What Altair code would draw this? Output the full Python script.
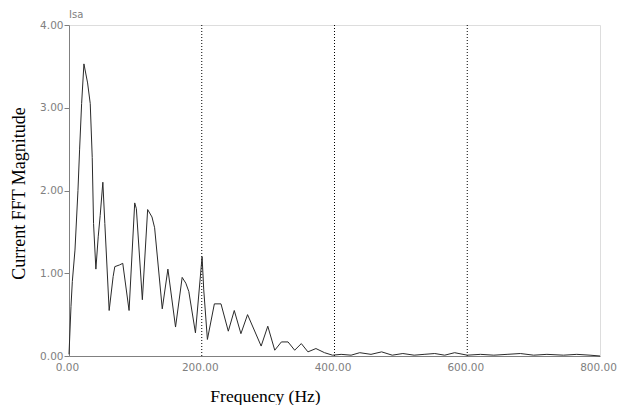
import altair as alt
import pandas as pd

freq_hz = [0, 3, 5, 9, 13.5, 16, 19, 22.5, 28, 32, 35, 37, 40.5, 44, 47, 51, 54,
           60.5, 66.5, 69, 76, 81, 90.5, 99, 101.5, 110.5, 118.5, 125, 129, 140.5,
           149, 160.5, 170.5, 176, 180.5, 190.5, 200.5, 203, 208.5, 219, 229, 240,
           249, 259, 269, 289.5, 299.5, 310, 320, 330, 340, 350, 360, 372, 385, 397,
           410, 425, 438, 455, 471, 487, 503, 520, 535, 551, 566, 581, 600, 620, 640,
           660, 680, 700, 720, 745, 765, 785, 800]
magnitude = [0.02, 0.6, 0.9, 1.28, 2.0, 2.5, 3.05, 3.53, 3.3, 3.05, 2.4, 1.6, 1.05,
             1.44, 1.7, 2.1, 1.6, 0.55, 0.96, 1.08, 1.1, 1.12, 0.55, 1.85, 1.78, 0.68,
             1.77, 1.68, 1.55, 0.57, 1.05, 0.35, 0.95, 0.88, 0.78, 0.28, 1.2, 0.8, 0.2,
             0.63, 0.63, 0.3, 0.55, 0.27, 0.5, 0.12, 0.36, 0.07, 0.17, 0.17, 0.07, 0.15,
             0.05, 0.09, 0.04, 0.01, 0.02, 0.01, 0.04, 0.02, 0.05, 0.01, 0.03, 0.01,
             0.02, 0.03, 0.01, 0.04, 0.01, 0.02, 0.01, 0.02, 0.03, 0.01, 0.02, 0.01,
             0.02, 0.01, 0.0]
x_ticks = [0, 200, 400, 600, 800]
y_ticks = [0, 1, 2, 3, 4]
grid_lines = [200, 400, 600]

df = pd.DataFrame({"f": freq_hz, "m": magnitude})
grid_df = pd.DataFrame({"g": grid_lines})

GREY = "#808080"
LABEL_FONT = "DejaVu Sans"
SERIF = "Liberation Serif"

x_scale = alt.Scale(domain=[0, 800], nice=False, zero=False)
y_scale = alt.Scale(domain=[0, 4], nice=False)

line = alt.Chart(df).mark_line(color="#2a2a2a", strokeWidth=1, interpolate="linear").encode(
    x=alt.X("f:Q", scale=x_scale,
            axis=alt.Axis(values=x_ticks, format=".2f", grid=False, ticks=False,
                          labelFont=LABEL_FONT, labelFontSize=10.5, labelColor=GREY,
                          labelPadding=6, labelOffset=-2, domainColor=GREY,
                          labelFlush=False,
                          title="Frequency (Hz)", titleFont=SERIF, titleFontSize=17.5,
                          titleFontWeight="normal", titleColor="#000000",
                          titleX=196, titleY=40, titleBaseline="middle",
                          titleAnchor="start", titleAlign="center")),
    y=alt.Y("m:Q", scale=y_scale,
            axis=alt.Axis(values=y_ticks, format=".2f", grid=False, ticks=True,
                          tickSize=5, tickColor=GREY, labelFont=LABEL_FONT,
                          labelFontSize=10.5, labelColor=GREY, labelPadding=1,
                          domainColor=GREY, labelFlush=False,
                          title="Current FFT Magnitude", titleFont=SERIF,
                          titleFontSize=18, titleFontWeight="normal",
                          titleColor="#000000", titleAngle=-90, titleX=-50,
                          titleY=168, titleAlign="center", titleBaseline="middle")),
)

grid = alt.Chart(grid_df).mark_rule(color="#000000", strokeWidth=1, strokeDash=[1, 2]).encode(
    x=alt.X("g:Q", scale=x_scale)
)

chart = (grid + line).properties(
    width=531,
    height=331,
    padding={"left": 69, "top": 25, "right": 17, "bottom": 49},
    autosize=alt.AutoSizeParams(type="none"),
    title=alt.TitleParams("Isa", anchor="start", frame="group", fontSize=10,
                          font=LABEL_FONT, fontWeight="normal", color=GREY, offset=0),
).configure_view(stroke=GREY, strokeWidth=1).configure(background="#ffffff")

chart.save("out.html", embed_options={"renderer": "svg", "actions": False})
